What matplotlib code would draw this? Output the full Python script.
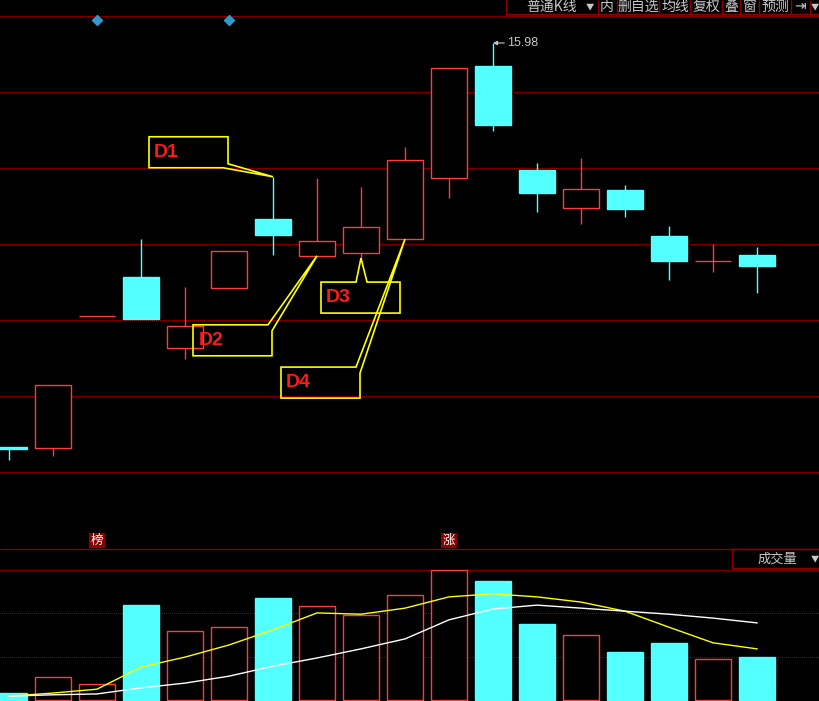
import matplotlib
matplotlib.use('Agg')
import matplotlib.pyplot as plt
import matplotlib.transforms as mtransforms
from matplotlib.patches import Polygon, Rectangle
import numpy as np

plt.rcParams['font.family'] = ['Noto Sans CJK SC', 'DejaVu Sans']

# daily K-line
opens = [10.66, 10.65, 12.39, 12.90, 11.97, 12.76, 13.66, 13.18, 13.22, 13.40,
         14.20, 15.68, 14.31, 13.81, 14.05, 13.44, 13.11, 13.19]
highs = [10.66, 11.48, 12.39, 13.40, 12.77, 13.24, 14.22, 14.20, 14.09, 14.61,
         15.65, 15.98, 14.40, 14.47, 14.11, 13.57, 13.34, 13.30]
lows = [10.49, 10.55, 12.39, 12.35, 11.82, 12.76, 13.19, 13.18, 13.15, 13.40,
        13.94, 14.82, 13.76, 13.60, 13.69, 12.86, 12.97, 12.69]
closes = [10.64, 11.48, 12.39, 12.35, 12.26, 13.24, 13.45, 13.37, 13.56, 14.44,
          15.65, 14.90, 14.01, 14.06, 13.80, 13.11, 13.11, 13.05]

# volume (万手) and its moving averages
volume = [1.6, 5.3, 3.7, 21.9, 15.9, 16.8, 23.5, 21.7, 19.6, 24.2,
          30.0, 27.5, 17.5, 15.0, 11.1, 13.2, 9.5, 9.9]
vol_ma5 = [0.9, 1.6, 2.5, 7.6, 9.9, 12.7, 16.2, 20.1, 19.8, 21.2,
           23.8, 24.5, 23.8, 22.6, 20.5, 16.8, 13.2, 11.8]
vol_ma10 = [0.9, 1.2, 1.4, 2.8, 3.9, 5.5, 7.8, 9.7, 11.8, 14.1,
            18.5, 21.0, 21.9, 21.2, 20.5, 19.8, 18.9, 17.8]

price_grid = [10.34, 11.34, 12.34, 13.34, 14.34, 15.34, 16.34]
vol_grid = [10, 20, 30]

high_label = '15.98'
high_bar = 11
diamond_bars = [2, 5]
tags = ['榜', '涨']
tag_bars = [2, 10]
callout_labels = ['D1', 'D2', 'D3', 'D4']
callout_bars = [6, 7, 8, 9]
callout_prices = [highs[6], lows[7], lows[8], opens[9]]
toolbar_items = ['普通K线', '▼', '内', '删自选', '均线', '复权', '叠', '窗', '预测', '⇥', '▼']

RED = '#ff3c3c'
CYAN = '#54ffff'
DARKRED = '#8c0000'
GRAY = '#c8c8c8'

opens, highs, lows, closes = map(np.array, (opens, highs, lows, closes))
x = np.arange(len(opens))
up = closes >= opens
body_col = np.where(up, RED, CYAN)
body_fill = np.where(up, 'black', CYAN)
bw = 36 / 44

fig = plt.figure(figsize=(8.19, 7.01), dpi=100, facecolor='black')
ax = fig.add_axes([0, 152 / 701, 1, 549 / 701], facecolor='black')
vax = fig.add_axes([0, 0, 1, 152 / 701], facecolor='black')

# price panel
for g in price_grid:
    ax.axhline(g, color=DARKRED, lw=0.72, ls=(0, (1, 2)), antialiased=False, zorder=1)
ax.vlines(x, lows, highs, colors=body_col, lw=1, zorder=2)
ax.bar(x, np.abs(closes - opens), bottom=np.minimum(opens, closes), width=bw,
       color=body_fill, edgecolor=body_col, lw=1, zorder=3)
ax.set_xlim(-9 / 44, 810 / 44)
ax.set_ylim(9.322, 16.546)
ax.axis('off')

ax.annotate(high_label, xy=(high_bar, highs[high_bar]), xytext=(14, 0),
            textcoords='offset pixels', va='center', ha='left', color=GRAY,
            fontsize=9, family='Liberation Sans',
            arrowprops=dict(arrowstyle='-|>', color=GRAY, lw=0.8,
                            shrinkA=0, shrinkB=0, mutation_scale=6))

top_trans = mtransforms.blended_transform_factory(ax.transData, ax.transAxes)
ax.plot(diamond_bars, [1 - 20 / 549] * len(diamond_bars), 'D', color='#3399cc',
        ms=5, transform=top_trans, clip_on=False, zorder=5)
for t, b in zip(tags, tag_bars):
    ax.text(b, 1 - 540.5 / 549, t, transform=top_trans, color='white', fontsize=9,
            ha='center', va='center',
            bbox=dict(fc='#8c0000', ec='none', pad=1.0), zorder=5)

# callout shapes: pixel offsets from the tip (x right, y up)
shapes = [
    [(-124, 40), (-45, 40), (-45, 13), (0, 0), (-50, 9), (-124, 9)],
    [(-124, -69), (-49, -69), (0, 0), (-45, -75), (-45, -100), (-124, -100)],
    [(-40, -24), (-5, -24), (0, 0), (6, -24), (39, -24), (39, -55), (-40, -55)],
    [(-124, -128), (-49, -128), (0, 0), (-45, -134), (-45, -159), (-124, -159)],
]
text_pos = [(-119, 24), (-118, -85), (-35, -39), (-119, -143)]
for lab, b, p, shp, tp in zip(callout_labels, callout_bars, callout_prices, shapes, text_pos):
    tr = fig.dpi_scale_trans + mtransforms.ScaledTranslation(b, p, ax.transData)
    ax.add_patch(Polygon(np.array(shp) / 100, closed=True, fill=False, ec='#ffff00',
                         lw=1.2, transform=tr, clip_on=False, zorder=6))
    ax.text(tp[0] / 100, tp[1] / 100, lab, transform=tr, color='#ff1a1a',
            fontsize=14, fontweight='bold', family='Liberation Sans',
            ha='left', va='center', zorder=7)

# volume panel
for g in vol_grid:
    vax.axhline(g, color=DARKRED, lw=0.72, ls=(0, (1, 2)), antialiased=False, zorder=1)
vax.bar(x, volume, width=bw, color=body_fill, edgecolor=body_col, lw=1, zorder=3)
vax.plot(x, vol_ma5, color='#ffff00', lw=1, zorder=4)
vax.plot(x, vol_ma10, color='white', lw=1, zorder=4)
vax.set_xlim(-9 / 44, 810 / 44)
vax.set_ylim(-0.23, 34.85)
vax.axis('off')

# window chrome in pixel coordinates
ui = fig.add_axes([0, 0, 1, 1])
ui.set_xlim(0, 819)
ui.set_ylim(701, 0)
ui.axis('off')
ui.patch.set_alpha(0)
ui.hlines(549, 0, 819, color=DARKRED, lw=1)
ui.add_patch(Rectangle((506, -2), 320, 16, fill=False, ec=DARKRED, lw=1))
ui.vlines([598, 617, 659, 690, 722, 740, 759, 791, 810], 0, 14, color=DARKRED, lw=1)
item_x = [552, 590, 607, 638, 675, 706, 731, 750, 775, 800, 815]
for t, cx in zip(toolbar_items, item_x):
    fs = 6 if t == '▼' else 10
    ui.text(cx, 6.5, t, color=GRAY, fontsize=fs, ha='center', va='center')
ui.add_patch(Rectangle((732, 549), 90, 19, fill=False, ec=DARKRED, lw=1))
ui.text(777, 559, '成交量', color=GRAY, fontsize=9.5, ha='center', va='center')
ui.text(815, 559, '▼', color=GRAY, fontsize=6, ha='center', va='center')

fig.savefig('out.png', dpi=100, facecolor='black')
